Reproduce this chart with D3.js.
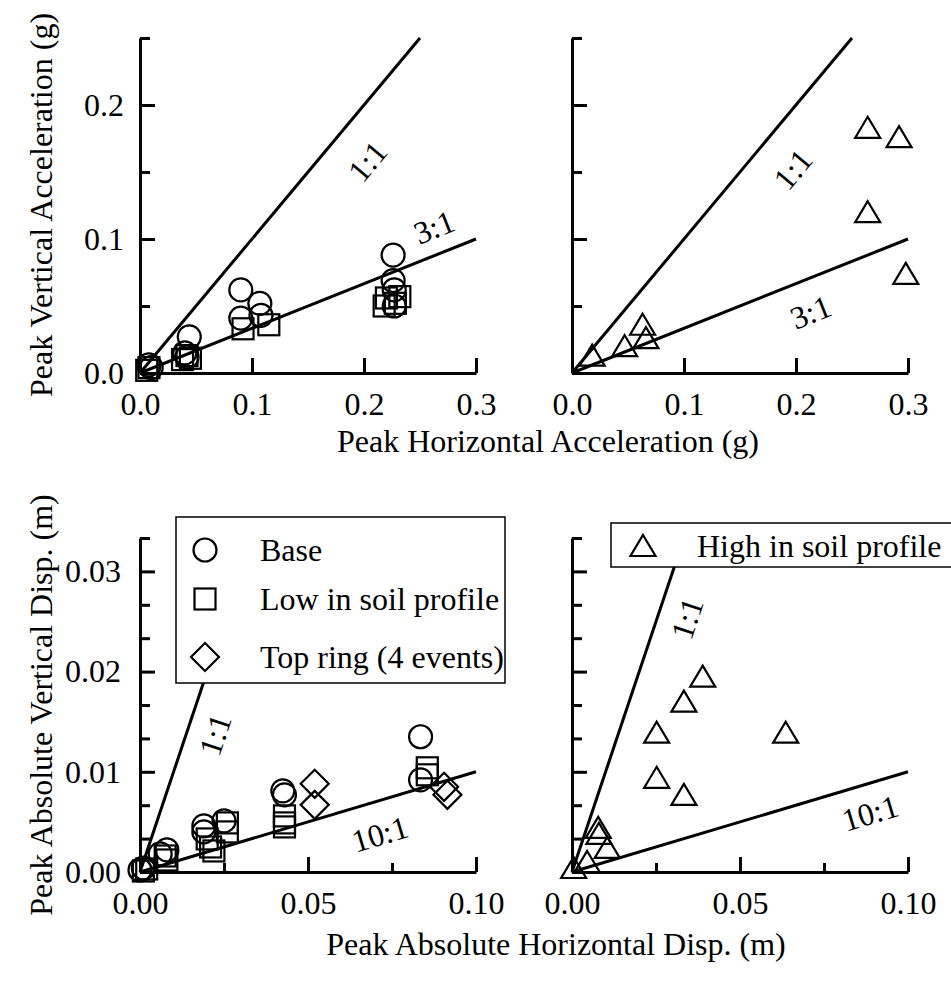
<!DOCTYPE html>
<html>
<head>
<meta charset="utf-8">
<script src="https://cdn.jsdelivr.net/npm/d3@7"></script>
<style>
  body { margin: 0; background: #fff; }
  svg { display: block; }
  text { font-family: "Liberation Serif", "Times New Roman", serif; fill: #000; }
</style>
</head>
<body>
<div id="chart"></div>
<script>
// ---- data ----

// top row: peak accelerations (g), [horizontal, vertical]
const accBase = [
  [0.008, 0.006], [0.010, 0.004], [0.040, 0.015], [0.044, 0.027], [0.042, 0.012],
  [0.090, 0.062], [0.107, 0.052], [0.090, 0.041], [0.108, 0.043],
  [0.226, 0.088], [0.226, 0.069], [0.227, 0.062], [0.227, 0.050]
];
const accLow = [
  [0.006, 0.002], [0.008, 0.004], [0.038, 0.010], [0.042, 0.013], [0.045, 0.011],
  [0.092, 0.033], [0.115, 0.036],
  [0.218, 0.050], [0.220, 0.056], [0.232, 0.057], [0.228, 0.052]
];
const accHigh = [
  [0.018, 0.013], [0.047, 0.020], [0.063, 0.036], [0.066, 0.026],
  [0.264, 0.183], [0.292, 0.176], [0.264, 0.120], [0.298, 0.074]
];

// bottom row: peak absolute displacements (m), [horizontal, vertical]
const dispBase = [
  [0.000, 0.0002], [0.001, 0.0004], [0.008, 0.0022], [0.006, 0.0018],
  [0.019, 0.0046], [0.019, 0.0040], [0.025, 0.0051],
  [0.0425, 0.0081], [0.043, 0.0077], [0.0835, 0.0135], [0.0835, 0.0092]
];
const dispLow = [
  [0.001, 0.0001], [0.002, 0.0003], [0.0075, 0.0016], [0.008, 0.0012],
  [0.020, 0.0033], [0.021, 0.0025], [0.022, 0.0021], [0.026, 0.0049], [0.026, 0.0040],
  [0.043, 0.0056], [0.043, 0.0049], [0.043, 0.0045],
  [0.0855, 0.0104], [0.0855, 0.0097]
];
const dispTop = [
  [0.052, 0.0088], [0.052, 0.0067], [0.0905, 0.0085], [0.0915, 0.0077]
];
const dispHigh = [
  [0.0389, 0.0195], [0.0333, 0.0170], [0.0252, 0.0139], [0.0636, 0.0139],
  [0.0252, 0.0094], [0.0333, 0.0077], [0.0078, 0.0044], [0.0080, 0.0038],
  [0.0105, 0.0024], [0.0045, 0.0010], [0.0005, 0.0004]
];

// ratio lines: [ratio H:V, label, label x, label y] (label position in data units)
const accRatiosLeft  = [[1, "1:1", 0.203, 0.158], [3, "3:1", 0.2625, 0.109]];
const accRatiosRight = [[1, "1:1", 0.197, 0.152], [3, "3:1", 0.213, 0.0455]];
const dispRatiosLeft  = [[1, "1:1", 0.0223, 0.0137], [10, "10:1", 0.0714, 0.0038]];
const dispRatiosRight = [[1, "1:1", 0.0342, 0.0253], [10, "10:1", 0.0887, 0.0059]];

// axes
const accXDomain = [0, 0.3];
const accYDomain = [0, 0.25];
const accXTicks = [0, 0.1, 0.2, 0.3];
const accYMajor = [0, 0.1, 0.2];
const accYMinor = [0.05, 0.15, 0.25];
const dispXDomain = [0, 0.1];
const dispYDomain = [0, 0.1 / 3];
const dispXMajor = [0, 0.05, 0.1];
const dispXMinor = [0.025, 0.075];
const dispYMajor = [0, 0.01, 0.02, 0.03];
const dispYMinor = [1, 2, 4, 5, 7, 8, 10].map(k => k * 0.01 / 3);

const legendLeft  = [["circle", "Base"], ["square", "Low in soil profile"], ["diamond", "Top ring (4 events)"]];
const legendRight = [["triangle", "High in soil profile"]];

// ---- layout ----
const W = 951, H = 984;
const FS = 32;
const svg = d3.select("#chart").append("svg").attr("width", W).attr("height", H);

// marker drawing (open symbols)
function marker(g, type, cx, cy) {
  let m;
  if (type === "circle") {
    m = g.append("circle").attr("cx", cx).attr("cy", cy).attr("r", 11.5);
  } else if (type === "square") {
    m = g.append("rect").attr("x", cx - 10.5).attr("y", cy - 10.5).attr("width", 21).attr("height", 21);
  } else if (type === "diamond") {
    m = g.append("path").attr("d", `M${cx},${cy - 14}L${cx + 14},${cy}L${cx},${cy + 14}L${cx - 14},${cy}Z`);
  } else {
    m = g.append("path").attr("d", `M${cx},${cy - 11}L${cx + 12.5},${cy + 10}L${cx - 12.5},${cy + 10}Z`);
  }
  m.attr("fill", "none").attr("stroke", "#000").attr("stroke-width", 2.2);
}

function styleAxis(g) {
  g.attr("font-size", FS).attr("font-family", '"Liberation Serif", "Times New Roman", serif');
  g.selectAll("path.domain").attr("stroke-width", 3);
  g.selectAll(".tick line").attr("stroke-width", 3);
}

function panel(opt) {
  const { left, top, w, h, xDomain, yDomain } = opt;
  const x = d3.scaleLinear().domain(xDomain).range([left, left + w]);
  const y = d3.scaleLinear().domain(yDomain).range([top + h, top]);
  const g = svg.append("g");

  // ratio lines
  opt.ratios.forEach(([r, label, lx, ly]) => {
    const xEnd = Math.min(xDomain[1], yDomain[1] * r);
    g.append("line")
      .attr("x1", x(0)).attr("y1", y(0))
      .attr("x2", x(xEnd)).attr("y2", y(xEnd / r))
      .attr("stroke", "#000").attr("stroke-width", 3);
    const ang = Math.atan2(y(xEnd / r) - y(0), x(xEnd) - x(0)) * 180 / Math.PI;
    g.append("text")
      .attr("transform", `translate(${x(lx)},${y(ly)}) rotate(${ang})`)
      .attr("text-anchor", "middle").attr("dy", "0.35em")
      .attr("font-size", FS).text(label);
  });

  // points
  opt.series.forEach(([type, data]) => {
    data.forEach(d => marker(g, type, x(d[0]), y(d[1])));
  });

  // axes: inward ticks, long at labelled values, short between
  const gx = g.append("g").attr("transform", `translate(0,${y(0)})`);
  gx.call(d3.axisBottom(x).tickValues(opt.xMajor).tickSize(-15).tickSizeOuter(0)
    .tickPadding(19).tickFormat(opt.xFmt));
  styleAxis(gx);
  if (opt.xMinor) {
    const gxm = g.append("g").attr("transform", `translate(0,${y(0)})`);
    gxm.call(d3.axisBottom(x).tickValues(opt.xMinor).tickSize(-9).tickSizeOuter(0).tickFormat(""));
    styleAxis(gxm);
    gxm.select("path.domain").remove();
  }
  const gy = g.append("g").attr("transform", `translate(${x(0)},0)`);
  gy.call(d3.axisLeft(y).tickValues(opt.yMajor).tickSize(-15).tickSizeOuter(0)
    .tickPadding(opt.yPad).tickFormat(opt.yFmt));
  styleAxis(gy);
  const gym = g.append("g").attr("transform", `translate(${x(0)},0)`);
  gym.call(d3.axisLeft(y).tickValues(opt.yMinor).tickSize(-10).tickSizeOuter(0).tickFormat(""));
  styleAxis(gym);
  gym.select("path.domain").remove();
  return { g, x, y };
}

const fmt1 = d3.format(".1f");
const fmt2 = d3.format(".2f");

panel({
  left: 140, top: 38, w: 336, h: 335, xDomain: accXDomain, yDomain: accYDomain,
  xMajor: accXTicks, xFmt: fmt1, yMajor: accYMajor, yMinor: accYMinor, yFmt: fmt1, yPad: 16,
  ratios: accRatiosLeft,
  series: [["circle", accBase], ["square", accLow]]
});
panel({
  left: 572, top: 38, w: 336, h: 335, xDomain: accXDomain, yDomain: accYDomain,
  xMajor: accXTicks, xFmt: fmt1, yMajor: accYMajor, yMinor: accYMinor, yFmt: () => "", yPad: 16,
  ratios: accRatiosRight,
  series: [["triangle", accHigh]]
});
panel({
  left: 140, top: 538, w: 336, h: 334, xDomain: dispXDomain, yDomain: dispYDomain,
  xMajor: dispXMajor, xMinor: dispXMinor, xFmt: fmt2, yMajor: dispYMajor, yMinor: dispYMinor, yFmt: fmt2, yPad: 19,
  ratios: dispRatiosLeft,
  series: [["circle", dispBase], ["square", dispLow], ["diamond", dispTop]]
});
panel({
  left: 572, top: 538, w: 336, h: 334, xDomain: dispXDomain, yDomain: dispYDomain,
  xMajor: dispXMajor, xMinor: dispXMinor, xFmt: fmt2, yMajor: dispYMajor, yMinor: dispYMinor, yFmt: () => "", yPad: 19,
  ratios: dispRatiosRight,
  series: [["triangle", dispHigh]]
});

// legends
function legend(x0, y0, w, h, items, markerX, textX, rowY) {
  const g = svg.append("g");
  g.append("rect").attr("x", x0).attr("y", y0).attr("width", w).attr("height", h)
    .attr("fill", "#fff").attr("stroke", "#000").attr("stroke-width", 1.5);
  items.forEach(([type, label], i) => {
    marker(g, type, markerX, rowY[i]);
    g.append("text").attr("x", textX).attr("y", rowY[i]).attr("dy", "0.35em")
      .attr("font-size", FS).text(label);
  });
}
legend(176, 517, 329, 166, legendLeft, 205, 260, [550, 599, 657]);
legend(611, 523, 345, 44, legendRight, 643, 697, [546]);

// axis titles
svg.append("text").attr("x", 548).attr("y", 452).attr("text-anchor", "middle")
  .attr("font-size", FS).text("Peak Horizontal Acceleration (g)");
svg.append("text").attr("x", 556).attr("y", 955).attr("text-anchor", "middle")
  .attr("font-size", FS).text("Peak Absolute Horizontal Disp. (m)");
svg.append("text").attr("transform", "translate(52,205) rotate(-90)").attr("text-anchor", "middle")
  .attr("font-size", FS).text("Peak Vertical Acceleration (g)");
svg.append("text").attr("transform", "translate(52,705) rotate(-90)").attr("text-anchor", "middle")
  .attr("font-size", FS).text("Peak Absolute Vertical Disp. (m)");
</script>
</body>
</html>
